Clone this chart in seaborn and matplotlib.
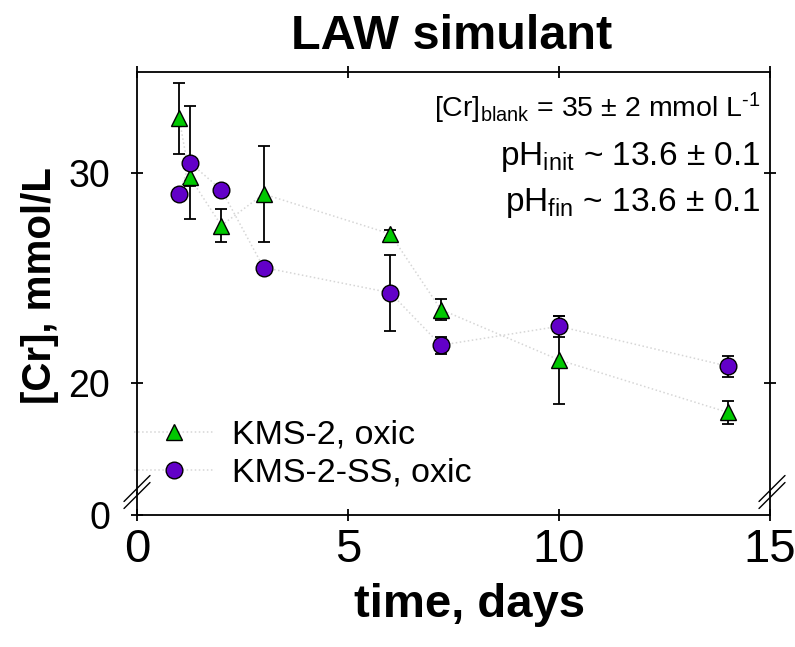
import numpy as np
import pandas as pd
import seaborn as sns
import matplotlib
matplotlib.use("Agg")
import matplotlib.pyplot as plt

sns.set_style("ticks")
plt.rcParams['font.family'] = ['Liberation Sans', 'DejaVu Sans']
plt.rcParams['mathtext.fontset'] = 'custom'
plt.rcParams['mathtext.rm'] = 'Liberation Sans'
plt.rcParams['mathtext.it'] = 'Liberation Sans:italic'
plt.rcParams['mathtext.bf'] = 'Liberation Sans:bold'
for k in ('text.color', 'axes.labelcolor', 'xtick.color', 'ytick.color', 'axes.edgecolor'):
    plt.rcParams[k] = 'black'

# ---- data ----
time_days = [1, 1.25, 2, 3, 6, 7.2, 10, 14]
kms2_cr = [32.6, 29.8, 27.5, 29.0, 27.1, 23.5, 21.1, 18.6]
kms2_err = [1.7, 0.4, 0.8, 2.3, 0.2, 0.5, 2.1, 0.55]
kms2ss_cr = [29.0, 30.5, 29.2, 25.5, 24.3, 21.8, 22.7, 20.8]
kms2ss_err = [0.15, 2.7, 0.1, 0.1, 1.8, 0.4, 0.5, 0.5]
series_labels = ["KMS-2, oxic", "KMS-2-SS, oxic"]
x_ticks = [0, 5, 10, 15]
y_ticks_upper = [20, 30]
y_ticks_lower = [0]

green = "#00c800"
purple = "#6200c8"

W, H = 795, 647
fig = plt.figure(figsize=(W / 100, H / 100), dpi=100)
left, right = 137 / W, 770 / W
top_px, break_px, bot_px = 72, 493, 515
ax = fig.add_axes([left, 1 - break_px / H, right - left, (break_px - top_px) / H])
axb = fig.add_axes([left, 1 - bot_px / H, right - left, (bot_px - break_px) / H], sharex=ax)

# scale: 21 px per unit
ax.set_ylim(20 - (break_px - 383) / 21, 30 + (173 - top_px) / 21)
axb.set_ylim(0, (bot_px - break_px) / 21)
ax.set_xlim(0, 15)

df1 = pd.DataFrame({"t": time_days, "cr": kms2_cr})
df2 = pd.DataFrame({"t": time_days, "cr": kms2ss_cr})

ax.errorbar(time_days, kms2_cr, yerr=kms2_err, fmt='none', ecolor='black',
            elinewidth=1.3, capsize=4.5, capthick=1.3, zorder=2)
ax.errorbar(time_days, kms2ss_cr, yerr=kms2ss_err, fmt='none', ecolor='black',
            elinewidth=1.3, capsize=4.5, capthick=1.3, zorder=2)

sns.lineplot(data=df1, x="t", y="cr", ax=ax, color="#d6d6d6", linestyle=":", lw=1.1,
             marker="^", markersize=12, markerfacecolor=green, markeredgecolor="black",
             markeredgewidth=1.0, label=series_labels[0], errorbar=None, zorder=3)
sns.lineplot(data=df2, x="t", y="cr", ax=ax, color="#d6d6d6", linestyle=":", lw=1.1,
             marker="o", markersize=12, markerfacecolor=purple, markeredgecolor="black",
             markeredgewidth=1.0, label=series_labels[1], errorbar=None, zorder=3)

ax.set_xlabel("")
ax.set_ylabel("")

# spines and ticks
for a in (ax, axb):
    for s in a.spines.values():
        s.set_linewidth(1.3)
        s.set_color("black")
ax.spines['bottom'].set_visible(False)
axb.spines['top'].set_visible(False)

ax.set_yticks(y_ticks_upper)
axb.set_yticks(y_ticks_lower)
axb.set_xticks(x_ticks)

ax.tick_params(axis='x', which='both', bottom=False, top=True, labelbottom=False,
               direction='inout', length=8, width=1.3)
ax.tick_params(axis='y', left=True, right=True, direction='inout', length=8.5, width=1.3,
               labelsize=27, pad=15)
axb.tick_params(axis='x', direction='inout', length=9, width=1.3, labelsize=34, pad=5)
axb.tick_params(axis='y', direction='inout', length=8.5, width=1.3, labelsize=27, pad=15)

fig.text(470 / W, 1 - 605 / H, "time, days", fontsize=34, fontweight='bold',
         ha='center', va='center')
fig.text(40 / W, 1 - 286 / H, "[Cr], mmol/L", rotation=90, fontsize=29, fontweight='bold',
         ha='center', va='center')

fig.suptitle("LAW simulant", fontsize=35, fontweight='bold', x=(290 + 613) / 2 / W,
             y=1 - 14 / H, va='top')

# annotations
ax.text(0.985, 0.955, r"[Cr]$_{\mathrm{blank}}$ = 35 ± 2 mmol L$^{\text{-1}}$",
        transform=ax.transAxes, ha='right', va='top', fontsize=20.5)
ax.text(0.985, 0.838, r"pH$_{\mathrm{init}}$ ~ 13.6 ± 0.1",
        transform=ax.transAxes, ha='right', va='top', fontsize=24)
ax.text(0.985, 0.730, r"pH$_{\mathrm{fin}}$ ~ 13.6 ± 0.1",
        transform=ax.transAxes, ha='right', va='top', fontsize=24)

leg = ax.legend(loc='lower left', frameon=False, fontsize=24.5, handlelength=2.4,
                handletextpad=0.5, labelspacing=0.2, borderaxespad=0.0,
                bbox_to_anchor=(-0.027, -0.022))

# break marks
kw = dict(color='black', lw=1.0, clip_on=False, zorder=10)
for xc in (left * W, right * W + 2):
    for yoff in (-3.5, 3.5):
        yc = break_px - 1 + yoff
        xs = [(xc - 13) / W, (xc + 13) / W]
        ys = [1 - (yc + 13) / H, 1 - (yc - 13) / H]
        fig.add_artist(plt.Line2D(xs, ys, transform=fig.transFigure, **kw))

fig.savefig("out.png", dpi=100)
